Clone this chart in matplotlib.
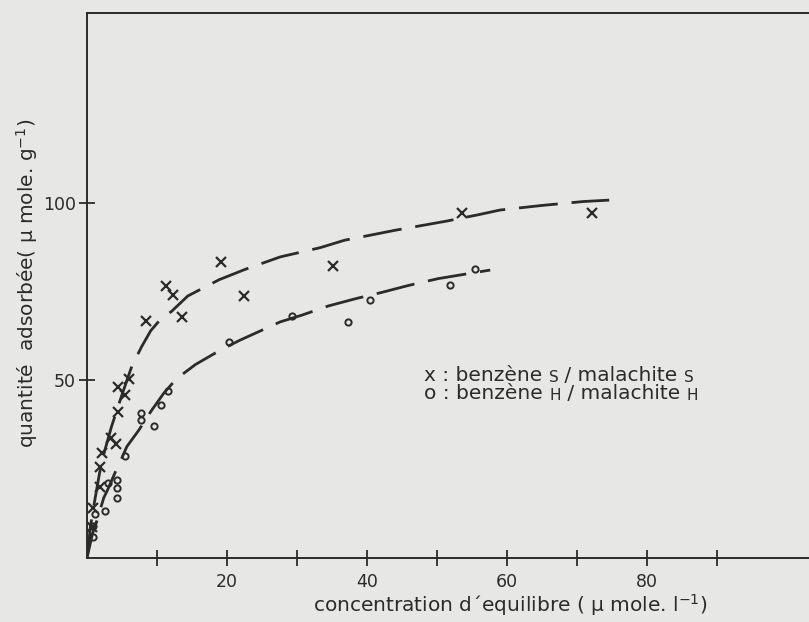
import numpy as np
import matplotlib
matplotlib.use("Agg")
import matplotlib.pyplot as plt

plt.rcParams['font.family'] = ['DejaVu Sans']
plt.rcParams['mathtext.default'] = 'regular'

# ---- data ----
# x : benzene S / malachite S
conc_s = [0.7, 0.9, 1.8, 1.9, 2.2, 3.4, 4.2, 4.4, 4.4, 5.4, 6.0, 8.4, 11.3,
          12.3, 13.5, 19.1, 22.4, 35.1, 53.5, 72.1]
ads_s = [8.6, 14.0, 20.0, 25.5, 29.7, 33.7, 32.1, 41.2, 48.3, 46.0, 50.5, 66.8,
         76.5, 74.2, 67.9, 83.5, 73.8, 82.3, 97.1, 97.1]

# o : benzene H / malachite H
conc_h = [0.8, 0.9, 1.1, 2.6, 3.0, 4.3, 4.3, 4.3, 5.4, 7.7, 7.7, 9.5, 10.5,
          11.5, 20.3, 29.3, 37.3, 40.4, 51.9, 55.4]
ads_h = [5.8, 9.0, 12.4, 13.2, 21.2, 22.0, 19.7, 17.0, 28.6, 40.8, 38.8, 37.3,
         43.2, 46.9, 60.8, 68.2, 66.5, 72.6, 76.8, 81.3]

# hand drawn dashed curves
curve_s_x = [0, 0.5, 1.0, 1.8, 2.5, 3.5, 5.0, 6.4, 7.8, 9.1, 10.4, 12.1, 14.4,
             18.9, 22.6, 27.6, 33.3, 36.8, 44.0, 51.4, 55.7, 59.0, 65.0, 70.9, 74.6]
curve_s_y = [0, 9, 15, 24, 30, 37, 46, 54, 59.5, 64, 67, 69.5, 73.8,
             78.4, 81.3, 84.8, 87.4, 89.5, 92.3, 94.9, 96.6, 98.0, 99.3, 100.4, 100.8]

curve_h_x = [0, 0.8, 1.5, 2.4, 2.9, 4.0, 4.6, 5.7, 7.4, 9.2, 11.0, 12.8, 15.5,
             19.0, 21.8, 27.6, 30.7, 34.5, 38.5, 41.9, 46.0, 50.2, 54.5, 57.6]
curve_h_y = [0, 7, 11, 17, 19, 24, 26.5, 31.4, 36, 41.5, 46.5, 50.5, 54.5,
             58.5, 61.3, 66.5, 68.4, 71.0, 73.1, 74.7, 76.8, 78.7, 80.1, 81.1]

x_ticks = [10, 20, 30, 40, 50, 60, 70, 80, 90]
x_ticklabels = ['', '20', '', '40', '', '60', '', '80', '']
y_ticks = [50, 100]

INK = '#2b2b2b'
BG = '#e7e7e5'

W, H = 809, 622
fig = plt.figure(figsize=(W / 100, H / 100), dpi=100, facecolor=BG)
left, right, bottom, top = 87, 815, 558, 13
ax = fig.add_axes([left / W, 1 - bottom / H, (right - left) / W, (bottom - top) / H])
ax.set_facecolor(BG)

ax.plot(curve_s_x, curve_s_y, color=INK, lw=2.0, dashes=(14, 5), solid_capstyle='butt')
ax.plot(curve_h_x, curve_h_y, color=INK, lw=2.0, dashes=(14, 5), solid_capstyle='butt')

ax.plot(conc_s, ads_s, 'x', color=INK, ms=7, mew=1.6, ls='none')
ax.plot(conc_h, ads_h, 'o', color=INK, ms=4.5, mew=1.4, mfc='none', ls='none')

ax.set_xlim(0, 104)
ax.set_ylim(0, 153.5)

ax.set_xticks(x_ticks)
ax.set_xticklabels(x_ticklabels)
ax.set_yticks(y_ticks)
ax.tick_params(axis='both', direction='inout', length=12, width=1.3, colors=INK,
               labelsize=12.5, pad=2)
ax.tick_params(axis='x', pad=5)

for side in ['left', 'bottom', 'top']:
    ax.spines[side].set_color(INK)
    ax.spines[side].set_linewidth(1.4)
ax.spines['right'].set_visible(False)

ax.set_xlabel("concentration d\u00b4equilibre ( \u00b5 mole. l$^{-1}$)", fontsize=14.5, color=INK)
ax.xaxis.set_label_coords(0.581, -0.062)
ax.set_ylabel("quantit\u00e9  adsorb\u00e9e( \u00b5 mole. g$^{-1}$)", fontsize=14.5, color=INK)
ax.yaxis.set_label_coords(-0.065, 0.505)

# legend written as text, with small capitals
def legend_line(x_px, y_px, pieces):
    prev = None
    for txt, size in pieces:
        if prev is None:
            prev = fig.text(x_px / W, 1 - y_px / H, txt, fontsize=size, color=INK,
                            va='bottom', ha='left')
        else:
            prev = ax.annotate(txt, xy=(1, 0), xycoords=prev, fontsize=size,
                               color=INK, va='bottom', ha='left')

legend_line(424, 385, [("x : benz\u00e8ne ", 14.5), ("S", 11), (" / malachite ", 14.5), ("S", 11)])
legend_line(424, 403, [("o : benz\u00e8ne ", 14.5), ("H", 11), (" / malachite ", 14.5), ("H", 11)])

fig.savefig("out.png", dpi=100, facecolor=BG)
